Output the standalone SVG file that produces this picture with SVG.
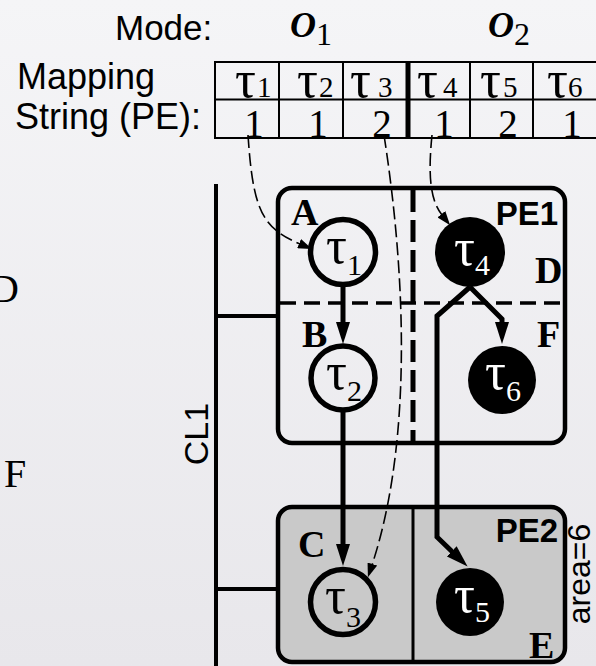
<svg xmlns="http://www.w3.org/2000/svg" width="596" height="666" viewBox="0 0 596 666">
<defs>
<linearGradient id="bg" x1="0" y1="0" x2="0" y2="1">
<stop offset="0" stop-color="#f5f5f7"/>
<stop offset="1" stop-color="#e8e7eb"/>
</linearGradient>
<marker id="ah" viewBox="0 0 22 14" refX="1" refY="7" markerWidth="22" markerHeight="14" markerUnits="userSpaceOnUse" orient="auto">
<path d="M0,0 L22,7 L0,14 z" fill="#000"/>
</marker>
<marker id="ahs" viewBox="0 0 14 10" refX="1" refY="5" markerWidth="14" markerHeight="10" markerUnits="userSpaceOnUse" orient="auto">
<path d="M0,0 L14,5 L0,10 z" fill="#000"/>
</marker>
<style>
.sans{font-family:"Liberation Sans",Arial,sans-serif}
.serif{font-family:"Liberation Serif","Times New Roman",serif}
.lbl{font-family:"Liberation Serif","Times New Roman",serif;font-weight:bold;font-size:38px}
.pe{font-family:"Liberation Sans",Arial,sans-serif;font-weight:bold;font-size:33px;text-anchor:end}
.tl{stroke:#000;stroke-width:2}
.box{stroke:#000;stroke-width:4.5}
.thick{fill:none;stroke:#000;stroke-width:5;marker-end:url(#ah)}
.map{fill:none;stroke:#000;stroke-width:1.6;stroke-dasharray:13 5;marker-end:url(#ahs)}
.tau{font-family:"Liberation Serif","Times New Roman",serif;font-size:52px}
.sub{font-size:30px}
.tt{font-family:"Liberation Serif","Times New Roman",serif;font-size:52px}
.ts{font-size:29px}
.cw{fill:none;stroke:#000;stroke-width:5.5}
</style>
</defs>
<rect x="0" y="0" width="596" height="666" fill="url(#bg)"/>

<!-- header texts -->
<g id="header">
<text class="sans" x="115" y="40" font-size="35">Mode:</text>
<text class="serif" x="290" y="37" font-size="36" font-weight="bold" font-style="italic">O<tspan font-weight="normal" font-style="normal" font-size="32" dy="8">1</tspan></text>
<text class="serif" x="488" y="37" font-size="36" font-weight="bold" font-style="italic">O<tspan font-weight="normal" font-style="normal" font-size="32" dy="8">2</tspan></text>
<text class="sans" x="17" y="89" font-size="36">Mapping</text>
<text class="sans" x="15" y="129" font-size="36">String (PE):</text>
</g>

<!-- mapping string table -->
<g id="mapping-table">
<line class="tl" x1="215" y1="62" x2="596" y2="62"/>
<line class="tl" x1="215" y1="99.5" x2="596" y2="99.5"/>
<line class="tl" x1="215" y1="138" x2="596" y2="138"/>
<line class="tl" x1="215" y1="61" x2="215" y2="139"/>
<line class="tl" x1="279" y1="61" x2="279" y2="139"/>
<line class="tl" x1="343" y1="61" x2="343" y2="139"/>
<line class="tl" x1="470" y1="61" x2="470" y2="139"/>
<line class="tl" x1="533" y1="61" x2="533" y2="139"/>
<line x1="408" y1="61" x2="408" y2="139" stroke="#000" stroke-width="5"/>
<g>
<text class="tt" x="235" y="97">τ<tspan class="ts" dx="1">1</tspan></text>
<text class="tt" x="297" y="97">τ<tspan class="ts" dx="1">2</tspan></text>
<text class="tt" x="350" y="97">τ<tspan class="ts" dx="7">3</tspan></text>
<text class="tt" x="417" y="97">τ<tspan class="ts" dx="5">4</tspan></text>
<text class="tt" x="480" y="97">τ<tspan class="ts" dx="2">5</tspan></text>
<text class="tt" x="547" y="97">τ<tspan class="ts" dx="0">6</tspan></text>
</g>
<g class="serif" font-size="39" text-anchor="middle">
<text x="254" y="137">1</text>
<text x="318" y="137">1</text>
<text x="382" y="137">2</text>
<text x="444" y="137">1</text>
<text x="508" y="137">2</text>
<text x="572" y="137">1</text>
</g>
</g>

<!-- cut-off text at left edge -->
<text class="serif" x="-10" y="302" font-size="40">D</text>
<text class="serif" x="4" y="487" font-size="40">F</text>

<!-- cluster bus CL1 -->
<g id="cl1">
<line x1="216" y1="184" x2="216" y2="666" stroke="#000" stroke-width="4"/>
<line x1="216" y1="316" x2="279" y2="316" stroke="#000" stroke-width="4"/>
<line x1="216" y1="589" x2="279" y2="589" stroke="#000" stroke-width="4"/>
<text class="sans" font-size="34" text-anchor="middle" transform="translate(208,434) rotate(-90)">CL1</text>
</g>

<!-- PE1 -->
<g id="pe1">
<rect class="box" x="278" y="188" width="287" height="255" rx="14" fill="none"/>
<line x1="280" y1="303" x2="563" y2="303" stroke="#000" stroke-width="3.5" stroke-dasharray="16 8"/>
<line x1="413" y1="190" x2="413" y2="441" stroke="#000" stroke-width="5" stroke-dasharray="22 8"/>
<text class="pe" x="558" y="225">PE1</text>
<text class="lbl" x="291" y="225">A</text>
<text class="lbl" x="302" y="347">B</text>
<text class="lbl" x="535" y="283">D</text>
<text class="lbl" x="537" y="347">F</text>
</g>

<!-- PE2 -->
<g id="pe2">
<rect class="box" x="278" y="507" width="287" height="155" rx="14" fill="#c9c9c9"/>
<line x1="413" y1="509" x2="413" y2="660" stroke="#000" stroke-width="3"/>
<text class="pe" x="558" y="542">PE2</text>
<text class="lbl" x="298" y="557">C</text>
<text class="lbl" x="529" y="658">E</text>
<text class="sans" font-size="32" text-anchor="middle" transform="translate(590,574) rotate(-90)">area=6</text>
</g>

<!-- tasks -->
<g id="tau1">
<circle class="cw" cx="343" cy="252" r="32.5"/>
<text class="tau" x="326" y="263">τ<tspan class="sub" dy="12">1</tspan></text>
</g>
<g id="tau2">
<circle class="cw" cx="343" cy="378" r="32"/>
<text class="tau" x="326" y="389">τ<tspan class="sub" dy="12">2</tspan></text>
</g>
<g id="tau3">
<circle class="cw" cx="343" cy="602" r="32.5" fill="#fff"/>
<text class="tau" x="325" y="613">τ<tspan class="sub" dy="14">3</tspan></text>
</g>
<g id="tau4">
<circle cx="470" cy="252" r="35" fill="#000"/>
<text class="tau" x="454" y="265" fill="#fff">τ<tspan class="sub" dy="10">4</tspan></text>
</g>
<g id="tau5">
<circle cx="470" cy="602" r="34" fill="#000"/>
<text class="tau" x="454" y="612" fill="#fff">τ<tspan class="sub" dy="10">5</tspan></text>
</g>
<g id="tau6">
<circle cx="502" cy="380" r="34" fill="#000"/>
<text class="tau" x="485" y="389" fill="#fff">τ<tspan class="sub" dy="12">6</tspan></text>
</g>

<!-- connectors -->
<g id="connectors">
<path class="thick" d="M343,287 V323"/>
<path class="thick" d="M343,412 V545"/>
<path class="thick" d="M470,287 L502,319 V323"/>
<path class="thick" d="M470,287 L437,316 V537 L452.5,552"/>
<path class="map" d="M248,135 C253,210 262,228 300,244"/>
<path class="map" d="M384,135 C408,290 410,450 372,565"/>
<path class="map" d="M432,135 C428,175 430,200 442,215"/>
</g>
</svg>
